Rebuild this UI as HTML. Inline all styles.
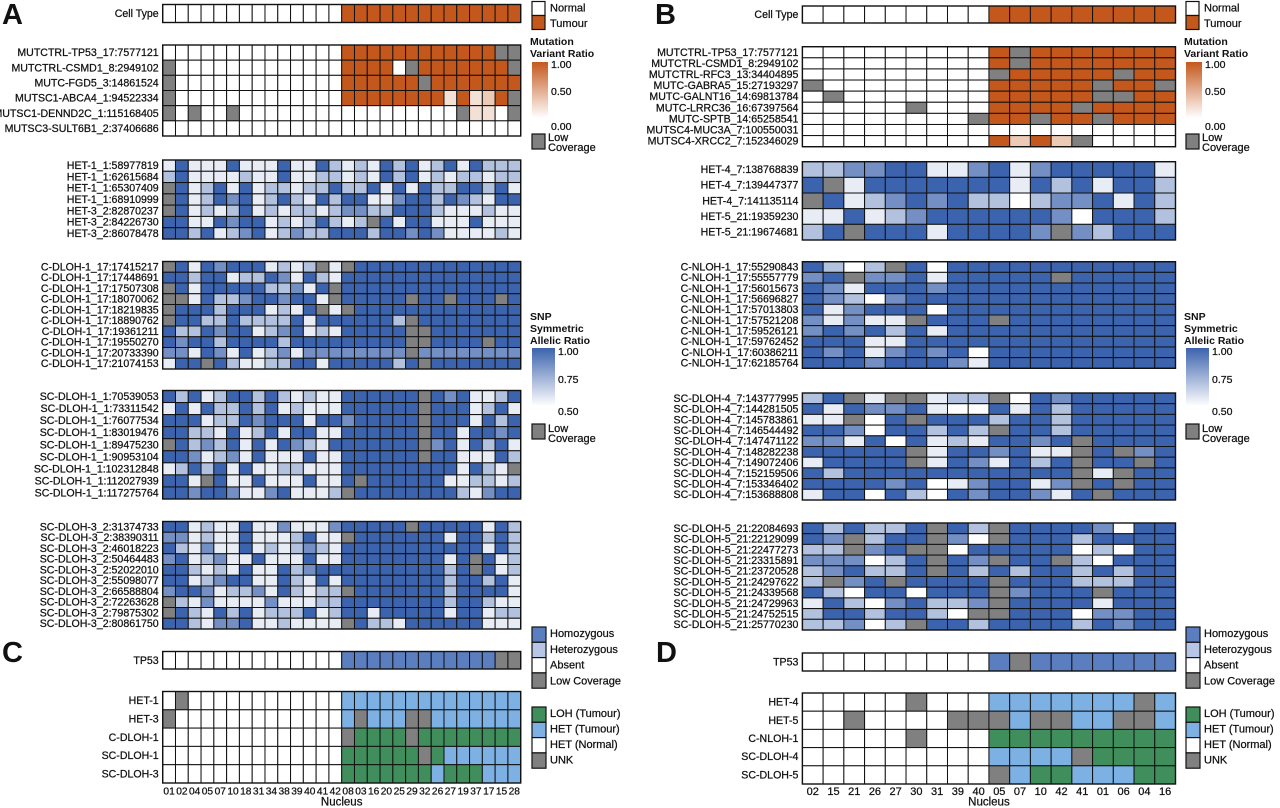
<!DOCTYPE html>
<html><head><meta charset="utf-8"><style>
html,body{margin:0;padding:0;background:#fff;}
svg{display:block;font-family:"Liberation Sans",Arial,sans-serif;}
</style></head><body>
<svg id="fig" width="1280" height="808" viewBox="0 0 1280 808" xmlns="http://www.w3.org/2000/svg">
<defs>
<linearGradient id="gOr" x1="0" y1="0" x2="0" y2="1"><stop offset="0" stop-color="#c4581c"/><stop offset="1" stop-color="#ffffff"/></linearGradient>
<linearGradient id="gBl" x1="0" y1="0" x2="0" y2="1"><stop offset="0" stop-color="#3c63ad"/><stop offset="1" stop-color="#ffffff"/></linearGradient>
</defs>
<g id="layer"></g>
</svg>
<script>
// ---------- DATA ----------
const colsA = ["01","02","04","05","07","10","18","31","34","38","39","40","41","42","08","03","16","20","25","29","32","26","27","19","37","17","15","28"];
const colsB = ["02","15","21","26","27","30","31","39","40","05","07","10","42","41","01","06","04","16"];
const cellTypeA = ["NNNNNNNNNNNNNNTTTTTTTTTTTTTT"];
const cellTypeB = ["NNNNNNNNNTTTTTTTTT"];
const mutLabelsA = ["MUTCTRL-TP53_17:7577121","MUTCTRL-CSMD1_8:2949102","MUTC-FGD5_3:14861524","MUTSC1-ABCA4_1:94522334","MUTSC1-DENND2C_1:115168405","MUTSC3-SULT6B1_2:37406686"];
const mutA = [
"WWWWWWWWWWWWWWOOOOOOOOOOOOGG",
"GWWWWWWWWWWWWWOOOOWGOOOOOOOG",
"GWWWWWWWWWWWWWOOOOOOGOOOOOOO",
"GWWWWWWWWWWWWWOOOOOOOOQOQPOG",
"GWGWWGWWWWWWWWWWWWWWWWWGQQWG",
"WWWWWWWWWWWWWWWWWWWWWWWWWWWW"];
const hetLabelsA = ["HET-1_1:58977819","HET-1_1:62615684","HET-1_1:65307409","HET-1_1:68910999","HET-3_2:82870237","HET-3_2:84226730","HET-3_2:86078478"];
const hetA = [
"WDWWWDWWWDWWDLWLWDLDWLDWDLLL",
"LDWWWWLWWDWWLLWLWDLDWLWLLWLL",
"GDWLDWDWLLWLLDLLDWDWDLLDDLDW",
"GDWLDMDWLDLWDLDDWWMDDLDMLWDD",
"GDWLWLDWLWLLWLMMLLDDDLWWWLWW",
"DDWWDMDDWLWLDLWLGDWDDWWWDWWW",
"DDLDWLMDWLMLLDDDLDDMDMWWWWLW"];
const cLabelsA = ["C-DLOH-1_17:17415217","C-DLOH-1_17:17448691","C-DLOH-1_17:17507308","C-DLOH-1_17:18070062","C-DLOH-1_17:18219835","C-DLOH-1_17:18890762","C-DLOH-1_17:19361211","C-DLOH-1_17:19550270","C-DLOH-1_17:20733390","C-DLOH-1_17:21074153"];
const cA = [
"GDWDMDDDWLWLGWGDDDDDDDDDDDDD",
"DDLDDWLLDMWDLWDDDDDDDDDDDDDD",
"GDWDDDDDLLMWDGDDDDDDDDDDDDDD",
"GGWDLLMDDMDDWGDDDDDGDDGDDDGD",
"GDDDLDDDWLWDGWGDDDDDDDDDDDDD",
"GDDLLDLLLLDWDDDDDDLGDDDDDDDD",
"DLLDMDDWLMDWLWDDDDDGGDDDDDDD",
"DMDDLDDDDLDDDDDDDDDGGDDDDGDD",
"MMWDMWDWLMWMMMMMMMMGMMMMMMMM",
"WDDGDLWWLLDDWDDDDDLDGDDDDDDD"];
const s1LabelsA = ["SC-DLOH-1_1:70539053","SC-DLOH-1_1:73311542","SC-DLOH-1_1:76077534","SC-DLOH-1_1:83019476","SC-DLOH-1_1:89475230","SC-DLOH-1_1:90953104","SC-DLOH-1_1:102312848","SC-DLOH-1_1:112027939","SC-DLOH-1_1:117275764"];
const s1A = [
"DLDWLDDLDLWLWWDDDDDDGDMDWWLD",
"WDWDLLDLDWLWWWDDDDDDGDDDWLDW",
"DDDWLLDMDDDWDDMDDDDDGDDDWDLD",
"DDLLWDWLDWDDWWDDDDDDGDDWDDMD",
"GDLMLDWDWDMLWDDDDDDDGMDWDLDW",
"DDMWLMWDWWWDWWDDDDDDGDDWWWDL",
"WLDLDWDWWLLWWWDDDDDDDDDWDLWG",
"DDWGDWWDWWWDWWDGDDDDDDWWLLWL",
"DDMDDMWWMDWWWLGDDDDDDDDLWMDD"];
const s3LabelsA = ["SC-DLOH-3_2:31374733","SC-DLOH-3_2:38390311","SC-DLOH-3_2:46018223","SC-DLOH-3_2:50464483","SC-DLOH-3_2:52022010","SC-DLOH-3_2:55098077","SC-DLOH-3_2:66588804","SC-DLOH-3_2:72263628","SC-DLOH-3_2:79875302","SC-DLOH-3_2:80861750"];
const s3A = [
"DDWLWWDWWMWWWMDDDDDGDDDDDWDL",
"MMWLWWDWWWLDWWGDDDDDDDWDDLDL",
"DLWMWWDWLWLMLWDDDDDDDDDDDWDL",
"MDWLMWWDWWWDWWDDDDDDDDWDGDWL",
"DDLWLWDWWDLMDDDDDDDDDDLDGDWL",
"DDWLMDDWWDLWDWDDDDDDDDLDDLDW",
"MDDMWLLMWDLWLLGDDDDDDDLDDDDW",
"GLWMWWWWMWWWLLDDDDDDDDLDDLWW",
"GDLWDLDWLLLDWLDDWDDDDDWDDWLL",
"DDLWMMDWWLWWWWGDLLWDDDDDDWWW"];
const tp53A = ["AAAAAAAAAAAAAAHHHHHHHHHHHHGG"];
const botLabelsA = ["HET-1","HET-3","C-DLOH-1","SC-DLOH-1","SC-DLOH-3"];
const botA = [
"NUNNNNNNNNNNNNTTTTTTTTTTTTTT",
"UNNNNNNNNNNNNNTUTTTUUTTTTTTT",
"NNNNNNNNNNNNNNUOOOOUOOOOOOOO",
"NNNNNNNNNNNNNNOOOOOOUOTTTTTT",
"NNNNNNNNNNNNNNOOOOOOOTOOOTTT"];
const mutLabelsB = ["MUTCTRL-TP53_17:7577121","MUTCTRL-CSMD1_8:2949102","MUTCTRL-RFC3_13:34404895","MUTC-GABRA5_15:27193297","MUTC-GALNT16_14:69813784","MUTC-LRRC36_16:67397564","MUTC-SPTB_14:65258541","MUTSC4-MUC3A_7:100550031","MUTSC4-XRCC2_7:152346029"];
const mutB = [
"WWWWWWWWWOGOOOOOOO",
"WWWWWWWWWOGOOOOOOO",
"WWWWWWWWWGOOOOOGOO",
"GWWWWWWWWOOOOOGOOG",
"WGWWWWWWWOOOOOGGOO",
"WWWWWGWWWOOOOGOOOO",
"WWWWWWWWGOOGOOGOOO",
"WWWWWWWWWWWWWWWWWW",
"WWWWWWWWWOPOPGWWWW"];
const hetLabelsB = ["HET-4_7:138768839","HET-4_7:139447377","HET-4_7:141135114","HET-5_21:19359230","HET-5_21:19674681"];
const hetB = [
"LLMMDDWWMDWMDDDDDW",
"DGWDDDDDDDWDLDWDDL",
"GDWLMDMDLLZLMMDWDL",
"WWDWLMDDDDDDMZDDDL",
"LDGDDDWDDDDMGMLDDD"];
const cLabelsB = ["C-NLOH-1_17:55290843","C-NLOH-1_17:55557779","C-NLOH-1_17:56015673","C-NLOH-1_17:56696827","C-NLOH-1_17:57013803","C-NLOH-1_17:57521208","C-NLOH-1_17:59526121","C-NLOH-1_17:59762452","C-NLOH-1_17:60386211","C-NLOH-1_17:62185764"];
const cB = [
"DLZLGDZDDDDDDDDDDD",
"MDGMMDWDDDDDGDDDDD",
"DMWDDDMDDDDDDDDDDD",
"DMLZMDDDDDDDDDDDDD",
"DWMDDDZDDDDDDDDDDD",
"MWMWWGDDDGDDDDDDDD",
"MDMDLDWDDDDDDDDDDD",
"DDDWWDDDDDDDDDDDDD",
"DMDWMDMDZDDDDDDDDD",
"DDDMDDDMWDDDDDDDDD"];
const s4LabelsB = ["SC-DLOH-4_7:143777995","SC-DLOH-4_7:144281505","SC-DLOH-4_7:145783861","SC-DLOH-4_7:146544492","SC-DLOH-4_7:147471122","SC-DLOH-4_7:148282238","SC-DLOH-4_7:149072406","SC-DLOH-4_7:152159506","SC-DLOH-4_7:153346402","SC-DLOH-4_7:153688808"];
const s4B = [
"LDGWGGWLLGZDMDDDDD",
"DWDMMDWZZDWDLDDDDD",
"WWGZDGDDDLDDLDDDDD",
"DDMZDDLDLGDDLDDDDD",
"MMWDZDWLWDDMDGDDDD",
"DDDDDGWDDMDWWGDGMD",
"WDDDDGWDMWDLDGDDGD",
"DLDDDDDDDDDDDGWGDD",
"DDDDMDZWMDDWMGDGDD",
"WDDZDLZDMDDMWDGDDD"];
const s5LabelsB = ["SC-DLOH-5_21:22084693","SC-DLOH-5_21:22129099","SC-DLOH-5_21:22477273","SC-DLOH-5_21:23315891","SC-DLOH-5_21:23720528","SC-DLOH-5_21:24297622","SC-DLOH-5_21:24339568","SC-DLOH-5_21:24729963","SC-DLOH-5_21:24752515","SC-DLOH-5_21:25770230"];
const s5B = [
"DLDLLDGDLGDDDDMZDD",
"DMGLDDGMZGDDDLDDDD",
"LLGMDGGZDDDDDZLZDD",
"MMMZLDGDMGDDGLZDDD",
"LMDLLDGDLDLDDLDLDD",
"LGMDGDDDDGDDDLLLDD",
"DLZDDZDDDGMDDDGDDD",
"WDLZMDLLMGDDDDWDDD",
"LDDLDDLZGGDDDZMMDD",
"LLMZLGDDLDDDDLDMDD"];
const tp53B = ["AAAAAAAAAHGHHHHHHH"];
const botLabelsB = ["HET-4","HET-5","C-NLOH-1","SC-DLOH-4","SC-DLOH-5"];
const botB = [
"NNNNNUNNNTTTTTTTUT",
"NNUNNNNUUUTUUTTUUT",
"NNNNNUNNNOOOOOOOOO",
"NNNNNNNNNTTTTUOOOO",
"NNNNNNNNNUTOOTTTOO"];
// code -> value tables
const snpCodes = ["D","M","L","W","Z"];
const snpValues = [1.0,0.86,0.7,0.56,0.5];
const mutCodes = ["O","P","Q","W"];
const mutValues = [1.0,0.32,0.18,0.0];

// ---------- SCALES ----------
function lerp(a,b,t){return Math.round(a+(b-a)*t);}
function mix(c1,c2,t){return "rgb("+lerp(c1[0],c2[0],t)+","+lerp(c1[1],c2[1],t)+","+lerp(c1[2],c2[2],t)+")";}
const GRAY="#808080";
function snpColor(code){ if(code==="G")return GRAY; const v=snpValues[snpCodes.indexOf(code)]; return mix([255,255,255],[60,99,173],(v-0.5)/0.5);}
function mutColor(code){ if(code==="G")return GRAY; const v=mutValues[mutCodes.indexOf(code)]; return mix([255,255,255],[196,88,28],v);}
function typeColor(c){return c==="T"?"#c4581c":"#ffffff";}
function tpColor(c){return c==="H"?"#5a7ebf":(c==="G"?GRAY:"#ffffff");}
function botColor(c){return c==="O"?"#3f8e5c":(c==="T"?"#7db0e3":(c==="U"?GRAY:"#ffffff"));}

const NS="http://www.w3.org/2000/svg";
const layer=document.getElementById("layer");
function mk(tag,attrs,parent){const e=document.createElementNS(NS,tag);for(const k in attrs)e.setAttribute(k,attrs[k]);(parent||layer).appendChild(e);return e;}
function txt(x,y,s,size,anchor,weight,parent){const t=mk("text",{x:x,y:y,"font-size":size,"text-anchor":anchor||"start","font-weight":weight||"normal",fill:"#111",stroke:"#111","stroke-width":weight==="bold"?0:0.25,"dominant-baseline":"central"},parent);t.textContent=s;return t;}

function block(name,x0,x1,y0,y1,rows,labels,colorFn){
  const g=mk("g",{});
  
  
  const ncol=rows[0].length, nrow=rows.length;
  const cw=(x1-x0)/ncol, rh=(y1-y0)/nrow;
  const xs=c=>x0+c*cw, ys=r=>y0+r*rh;
  rows.forEach((row,r)=>{
    for(let c=0;c<ncol;c++){
      const rect=mk("rect",{x:xs(c),y:ys(r),width:cw,height:rh,fill:colorFn(row[c]),stroke:"#111","stroke-width":1},g);
      
      
    }
    const lab=txt(x0-4,ys(r)+rh/2+0.5,labels[r],10.6,"end","normal",g);
    
    
  });
  mk("rect",{x:x0,y:y0,width:x1-x0,height:y1-y0,fill:"none",stroke:"#111","stroke-width":1.4},g);
}

// ---------- PANEL A ----------
const AX0=162.7, AX1=520.7, BX0=802.4, BX1=1175.5;
block("cell-type-row-a",AX0,AX1,4.5,22.5,cellTypeA,["Cell Type"],typeColor);
block("mutation-heatmap-a",AX0,AX1,45,136,mutA,mutLabelsA,mutColor);
block("het-heatmap-a",AX0,AX1,160,239,hetA,hetLabelsA,snpColor);
block("c-dloh-heatmap-a",AX0,AX1,261.5,369,cA,cLabelsA,snpColor);
block("sc-dloh-1-heatmap-a",AX0,AX1,390.5,499,s1A,s1LabelsA,snpColor);
block("sc-dloh-3-heatmap-a",AX0,AX1,521.5,629,s3A,s3LabelsA,snpColor);
block("tp53-row-c",AX0,AX1,651.5,669,tp53A,["TP53"],tpColor);
block("summary-heatmap-c",AX0,AX1,691.5,783,botA,botLabelsA,botColor);
// ---------- PANEL B ----------
block("cell-type-row-b",BX0,BX1,6,23,cellTypeB,["Cell Type"],typeColor);
block("mutation-heatmap-b",BX0,BX1,46.7,146.7,mutB,mutLabelsB,mutColor);
block("het-heatmap-b",BX0,BX1,161.7,240,hetB,hetLabelsB,snpColor);
block("c-nloh-heatmap-b",BX0,BX1,261.7,368.3,cB,cLabelsB,snpColor);
block("sc-dloh-4-heatmap-b",BX0,BX1,393,500,s4B,s4LabelsB,snpColor);
block("sc-dloh-5-heatmap-b",BX0,BX1,523,630,s5B,s5LabelsB,snpColor);
block("tp53-row-d",BX0,BX1,653,671,tp53B,["TP53"],tpColor);
block("summary-heatmap-d",BX0,BX1,693,784,botB,botLabelsB,botColor);

// column labels
function colLabels(cols,x0,x1,size,tag){
  const cw=(x1-x0)/cols.length;
  cols.forEach((c,i)=>{
    const t=txt(x0+cw*(i+0.5),792,c,size,"middle");
    
    
  });
  const n=txt((x0+x1)/2,802.5,"Nucleus",11.5,"middle");
  
  
}
colLabels(colsA,AX0,AX1,10.2,"nucleus-label-a");
colLabels(colsB,BX0,BX1,11,"nucleus-label-b");

// panel letters
[["A",2,15],["B",655,15],["C",2,653],["D",656,653]].forEach(p=>{
  const t=txt(p[1],p[2],p[0],29,"start","bold");
  
  
});

// legends
function legends(dx){
  const g=mk("g",{});
  
  
  const bx=532+dx, tx=550+dx;
  mk("rect",{x:bx,y:1.5,width:13,height:14,fill:"#fff",stroke:"#111","stroke-width":1.2},g);
  mk("rect",{x:bx,y:15.5,width:13,height:14,fill:"#c4581c",stroke:"#111","stroke-width":1.2},g);
  txt(tx,8.5,"Normal",11,"start","normal",g);
  txt(tx,24,"Tumour",11,"start","normal",g);
  txt(bx-2,42,"Mutation",10.5,"start","bold",g);
  txt(bx-2,54,"Variant Ratio",10.5,"start","bold",g);
  mk("rect",{x:bx,y:62,width:16,height:56,fill:"url(#gOr)"},g);
  txt(bx+19,65,"1.00",10.5,"start","normal",g);
  txt(bx+19,92,"0.50",10.5,"start","normal",g);
  txt(bx+19,127,"0.00",10.5,"start","normal",g);
  mk("rect",{x:bx,y:134,width:13,height:15,fill:GRAY,stroke:"#111","stroke-width":1.2},g);
  txt(bx+16,138,"Low",11,"start","normal",g);
  txt(bx+16,148,"Coverage",11,"start","normal",g);
  txt(bx-2,317,"SNP",10.5,"start","bold",g);
  txt(bx-2,329,"Symmetric",10.5,"start","bold",g);
  txt(bx-2,341,"Allelic Ratio",10.5,"start","bold",g);
  mk("rect",{x:bx,y:348,width:23,height:58,fill:"url(#gBl)"},g);
  txt(bx+26,352,"1.00",10.5,"start","normal",g);
  txt(bx+26,380,"0.75",10.5,"start","normal",g);
  txt(bx+26,412,"0.50",10.5,"start","normal",g);
  mk("rect",{x:bx,y:424,width:13,height:15,fill:GRAY,stroke:"#111","stroke-width":1.2},g);
  txt(bx+16,429,"Low",11,"start","normal",g);
  txt(bx+16,439,"Coverage",11,"start","normal",g);
  const zyg=[["#5a7ebf","Homozygous"],["#b7c6e6","Heterozygous"],["#ffffff","Absent"],[GRAY,"Low Coverage"]];
  zyg.forEach((z,i)=>{mk("rect",{x:bx,y:627+i*15.3,width:14,height:15.3,fill:z[0],stroke:"#111","stroke-width":1.2},g);txt(bx+18,634+i*15.8,z[1],11,"start","normal",g);});
  const loh=[["#3f8e5c","LOH (Tumour)"],["#7db0e3","HET (Tumour)"],["#ffffff","HET (Normal)"],[GRAY,"UNK"]];
  loh.forEach((z,i)=>{mk("rect",{x:bx,y:707+i*15.3,width:14,height:15.3,fill:z[0],stroke:"#111","stroke-width":1.2},g);txt(bx+18,714+i*15.5,z[1],11,"start","normal",g);});
}
legends(0);
legends(654);
</script>
</body></html>
